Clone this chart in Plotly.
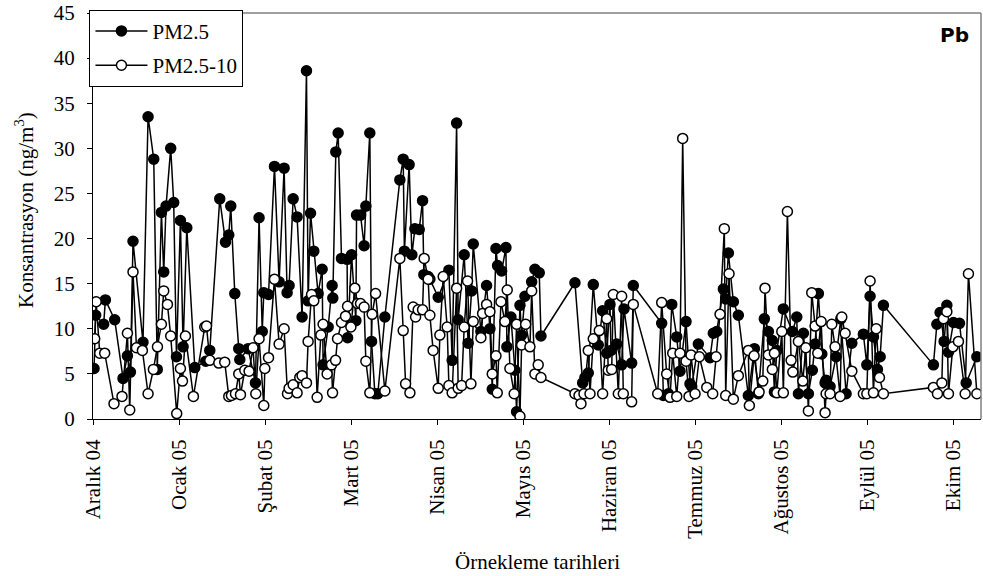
import plotly.graph_objects as go

# Month labels (axis ticks at the start of each month, 0 = 1 Dec 2004)
month_labels = ["Aralık 04", "Ocak 05", "Şubat 05", "Mart 05", "Nisan 05", "Mayıs 05",
                "Haziran 05", "Temmuz 05", "Ağustos 05", "Eylül 05", "Ekim 05"]
month_ticks = list(range(len(month_labels)))

# Sampling time (months since 1 Dec 2004) and Pb concentration (ng/m3), PM2.5
pm25_t = [
    0.012, 0.031, 0.124, 0.144, 0.252, 0.349, 0.400, 0.435, 0.465, 0.581,
    0.640, 0.706, 0.747, 0.795, 0.822, 0.849, 0.903, 0.938, 0.970, 1.016,
    1.047, 1.090, 1.183, 1.310, 1.357, 1.473, 1.540, 1.578, 1.601, 1.648,
    1.694, 1.706, 1.802, 1.888, 1.930, 1.967, 1.985, 2.040, 2.109, 2.163,
    2.221, 2.256, 2.279, 2.326, 2.372, 2.430, 2.481, 2.500, 2.528, 2.566,
    2.616, 2.663, 2.674, 2.733, 2.779, 2.787, 2.822, 2.849, 2.888, 2.953,
    2.959, 3.005, 3.055, 3.063, 3.109, 3.151, 3.171, 3.217, 3.237, 3.276,
    3.310, 3.392, 3.566, 3.605, 3.619, 3.674, 3.706, 3.741, 3.791, 3.830,
    3.845, 3.895, 3.915, 4.012, 4.136, 4.174, 4.226, 4.244, 4.314, 4.360,
    4.400, 4.419, 4.508, 4.574, 4.613, 4.640, 4.683, 4.702, 4.749, 4.799,
    4.810, 4.857, 4.903, 4.923, 4.962, 4.981, 5.020, 5.098, 5.136, 5.186,
    5.206, 5.601, 5.691, 5.717, 5.756, 5.814, 5.872, 5.923, 5.970, 6.008,
    6.020, 6.086, 6.144, 6.171, 6.260, 6.279, 6.609, 6.628, 6.686, 6.726,
    6.784, 6.822, 6.892, 6.938, 6.958, 7.035, 7.171, 7.209, 7.249, 7.326,
    7.353, 7.384, 7.442, 7.500, 7.616, 7.686, 7.733, 7.802, 7.849, 7.895,
    7.919, 7.947, 8.023, 8.128, 8.179, 8.198, 8.256, 8.314, 8.360, 8.392,
    8.430, 8.470, 8.508, 8.520, 8.566, 8.636, 8.691, 8.752, 8.819, 8.953,
    8.993, 9.031, 9.070, 9.116, 9.148, 9.186, 9.767, 9.807, 9.845, 9.892,
    9.923, 9.942, 10.000, 10.070, 10.148, 10.272,
]
pm25_val = [
    5.6, 11.5, 10.5, 13.2, 11.0, 4.5, 7.0, 5.2, 19.7, 8.5,
    33.5, 28.8, 5.5, 22.9, 16.3, 23.6, 30.0, 24.0, 6.9, 22.0,
    8.0, 21.2, 5.7, 6.4, 7.6, 24.4, 19.6, 20.4, 23.6, 13.9,
    7.8, 6.6, 7.8, 4.0, 22.3, 9.7, 14.0, 13.8, 28.0, 15.2,
    27.8, 14.0, 14.8, 24.4, 22.4, 11.3, 38.6, 13.1, 22.8, 18.6,
    13.9, 16.6, 6.0, 10.2, 14.8, 13.4, 29.6, 31.7, 17.8, 17.7,
    9.0, 18.2, 10.9, 22.6, 22.6, 19.2, 23.6, 31.7, 8.6, 2.8,
    2.8, 11.3, 26.5, 28.8, 18.6, 28.2, 18.2, 21.1, 21.0, 24.2,
    16.0, 15.8, 15.5, 13.5, 16.5, 6.5, 32.8, 11.0, 18.2, 8.4,
    14.2, 19.4, 9.7, 14.8, 10.0, 3.3, 18.9, 17.0, 16.4, 19.0,
    8.0, 11.3, 5.4, 0.8, 12.6, 9.3, 13.6, 15.2, 16.6, 16.2,
    9.2, 15.1, 4.0, 4.6, 5.1, 14.9, 8.2, 12.0, 7.3, 12.7,
    7.6, 8.3, 6.0, 12.2, 6.2, 14.8, 10.6, 2.6, 2.8, 12.7,
    9.1, 5.3, 10.8, 3.9, 3.6, 8.3, 6.8, 9.5, 9.7, 14.4,
    13.3, 18.4, 13.0, 11.5, 2.6, 7.8, 2.8, 11.1, 9.7, 8.7,
    3.0, 7.6, 12.2, 9.7, 11.3, 2.8, 9.5, 2.8, 5.4, 8.3,
    13.9, 7.2, 4.0, 4.3, 3.6, 6.9, 11.1, 2.8, 8.4, 9.4,
    6.0, 13.6, 9.1, 5.5, 6.9, 12.6, 6.0, 10.5, 11.8, 8.6,
    12.6, 7.4, 10.7, 10.6, 4.0, 6.9,
]

# PM2.5-10
pm2510_t = [
    0.020, 0.037, 0.078, 0.136, 0.244, 0.337, 0.400, 0.427, 0.465, 0.505,
    0.574, 0.640, 0.702, 0.749, 0.795, 0.822, 0.865, 0.903, 0.973, 1.016,
    1.040, 1.074, 1.167, 1.299, 1.319, 1.357, 1.462, 1.531, 1.578, 1.609,
    1.656, 1.694, 1.714, 1.764, 1.814, 1.860, 1.892, 1.930, 1.985, 1.997,
    2.040, 2.109, 2.163, 2.221, 2.260, 2.279, 2.326, 2.372, 2.403, 2.430,
    2.481, 2.500, 2.540, 2.566, 2.605, 2.648, 2.674, 2.721, 2.772, 2.784,
    2.819, 2.842, 2.888, 2.935, 2.958, 2.997, 3.043, 3.074, 3.109, 3.151,
    3.171, 3.217, 3.244, 3.284, 3.392, 3.566, 3.605, 3.633, 3.683, 3.721,
    3.749, 3.779, 3.830, 3.849, 3.895, 3.915, 3.953, 4.012, 4.031, 4.070,
    4.116, 4.136, 4.174, 4.226, 4.244, 4.284, 4.314, 4.353, 4.392, 4.419,
    4.508, 4.528, 4.574, 4.613, 4.640, 4.683, 4.698, 4.741, 4.787, 4.814,
    4.845, 4.895, 4.923, 4.962, 4.981, 5.028, 5.078, 5.098, 5.136, 5.174,
    5.206, 5.601, 5.648, 5.671, 5.706, 5.756, 5.776, 5.814, 5.884, 5.923,
    5.970, 5.988, 6.028, 6.047, 6.105, 6.144, 6.163, 6.260, 6.279, 6.563,
    6.609, 6.667, 6.706, 6.737, 6.784, 6.822, 6.853, 6.892, 6.927, 6.950,
    6.997, 7.047, 7.133, 7.202, 7.241, 7.287, 7.337, 7.353, 7.392, 7.442,
    7.500, 7.616, 7.628, 7.683, 7.741, 7.784, 7.810, 7.849, 7.895, 7.919,
    7.947, 8.005, 8.023, 8.070, 8.113, 8.133, 8.198, 8.249, 8.284, 8.314,
    8.353, 8.392, 8.423, 8.462, 8.508, 8.520, 8.566, 8.586, 8.624, 8.683,
    8.702, 8.741, 8.819, 8.953, 8.993, 9.031, 9.070, 9.102, 9.140, 9.186,
    9.767, 9.814, 9.865, 9.884, 9.923, 9.942, 9.993, 10.058, 10.136, 10.174,
    10.272,
]
pm2510_val = [
    8.9, 13.0, 7.3, 7.3, 1.7, 2.5, 9.5, 1.0, 16.3, 7.9,
    7.6, 2.8, 5.5, 8.0, 10.5, 14.2, 12.7, 9.2, 0.6, 5.6,
    4.2, 9.2, 2.5, 10.2, 10.3, 6.5, 6.2, 6.3, 2.5, 2.6,
    2.8, 5.0, 2.7, 5.4, 5.3, 7.9, 2.8, 8.9, 1.5, 5.6,
    6.8, 15.5, 8.3, 10.0, 2.8, 3.4, 3.8, 2.9, 4.6, 4.8,
    4.0, 8.6, 13.8, 13.1, 2.4, 9.3, 10.5, 5.0, 6.0, 2.9,
    6.5, 8.9, 10.7, 11.4, 12.5, 10.2, 14.5, 12.8, 12.8, 12.4,
    6.4, 2.9, 11.6, 13.9, 3.1, 17.8, 9.8, 3.9, 2.9, 12.4,
    11.3, 12.1, 12.1, 17.8, 15.5, 11.5, 7.6, 3.4, 9.3, 15.8,
    10.2, 3.7, 2.9, 14.5, 3.4, 3.7, 10.2, 15.3, 3.9, 10.8,
    9.0, 11.7, 12.7, 11.9, 5.0, 7.0, 2.9, 13.0, 10.8, 14.3,
    5.6, 2.8, 10.5, 0.3, 8.2, 10.5, 8.0, 14.2, 5.0, 6.0,
    4.6, 2.8, 2.6, 1.7, 2.8, 7.6, 2.8, 8.9, 9.8, 2.8,
    11.1, 5.4, 5.5, 13.8, 2.8, 13.6, 2.8, 1.9, 12.7, 2.8,
    12.9, 5.0, 2.4, 7.3, 2.5, 7.3, 31.1, 6.4, 2.5, 7.1,
    2.8, 6.9, 3.5, 2.8, 6.9, 11.6, 21.1, 2.6, 16.1, 2.2,
    4.8, 7.6, 1.5, 7.0, 3.0, 4.2, 14.5, 7.1, 5.5, 7.3,
    2.9, 9.7, 2.9, 23.0, 6.5, 5.2, 8.6, 4.2, 7.9, 0.9,
    14.0, 10.3, 7.3, 10.8, 0.7, 2.8, 2.8, 10.5, 8.0, 2.5,
    11.3, 9.5, 5.3, 2.8, 2.8, 15.3, 2.9, 10.0, 4.6, 2.8,
    3.5, 2.8, 4.0, 11.1, 11.9, 2.8, 8.0, 8.6, 2.8, 16.1,
    2.8,
]

FONT = "Liberation Serif"

fig = go.Figure()
fig.add_trace(go.Scatter(
    x=pm25_t, y=pm25_val, mode="lines+markers", name="PM2.5", legendgroup="a",
    line=dict(color="black", width=1.5),
    marker=dict(symbol="circle", size=10, color="black", line=dict(color="black", width=1.5)),
))
fig.add_trace(go.Scatter(
    x=pm2510_t, y=pm2510_val, mode="lines+markers", name="PM2.5-10", legendgroup="b",
    line=dict(color="black", width=1.5),
    marker=dict(symbol="circle", size=10, color="white", line=dict(color="black", width=1.5)),
))

fig.update_layout(
    width=983, height=576,
    margin=dict(l=93, r=2, t=13, b=157),
    paper_bgcolor="white", plot_bgcolor="white",
    font=dict(family=FONT, size=21, color="black"),
    showlegend=True,
    legend=dict(
        x=-0.004, y=1.008, xanchor="left", yanchor="top",
        bgcolor="white", bordercolor="black", borderwidth=1,
        font=dict(family=FONT, size=21, color="black"),
        tracegroupgap=4, itemwidth=52,
    ),
    xaxis=dict(
        range=[0, 10.32], tickmode="array", tickvals=month_ticks, ticktext=month_labels,
        tickangle=-90, ticks="outside", ticklen=5, tickcolor="black", tickwidth=1,
        showline=True, linecolor="black", linewidth=1, showgrid=False, zeroline=False,
        tickfont=dict(family=FONT, size=21, color="black"), ticklabelstandoff=6,
    ),
    yaxis=dict(
        range=[0, 45], dtick=5, ticks="outside", ticklen=5, tickcolor="black", tickwidth=1,
        showline=True, linecolor="black", linewidth=1, showgrid=False, zeroline=False,
        tickfont=dict(family=FONT, size=21, color="black"), ticklabelstandoff=8,
    ),
    shapes=[
        dict(type="line", xref="paper", yref="paper", x0=0, x1=1, y0=1, y1=1,
             line=dict(color="#808080", width=1.5)),
        dict(type="line", xref="paper", yref="paper", x0=1, x1=1, y0=0, y1=1,
             line=dict(color="#808080", width=1.5)),
    ],
    annotations=[
        dict(text="Konsantrasyon (ng/m<sup>3</sup>)", xref="paper", yref="paper",
             x=0, y=0.5, xanchor="center", yanchor="middle", xshift=-69, yshift=6,
             textangle=-90, showarrow=False, font=dict(family=FONT, size=21, color="black")),
        dict(text="Örnekleme tarihleri", xref="paper", yref="paper",
             x=0.5, y=0, xanchor="center", yanchor="middle", yshift=-143,
             showarrow=False, font=dict(family=FONT, size=21, color="black")),
        dict(text="<b>Pb</b>", xref="paper", yref="paper",
             x=1, y=1, xanchor="right", yanchor="top", xshift=-10, yshift=-8,
             showarrow=False, font=dict(family="DejaVu Sans", size=20, color="black")),
    ],
)

fig.write_html("out.html")
